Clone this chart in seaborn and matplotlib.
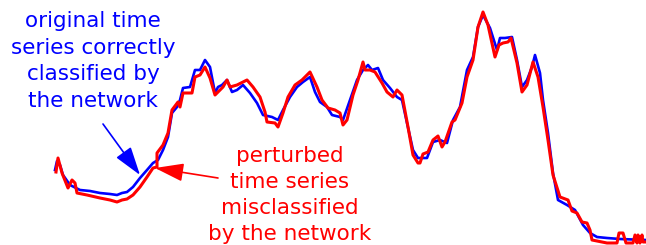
import matplotlib
matplotlib.use("Agg")
import matplotlib.pyplot as plt
import seaborn as sns
import pandas as pd

# Time index and values (value = height above the bottom edge)
blue_t = [55, 57, 60, 63, 70, 80, 90, 100, 110, 117, 122, 127, 133, 140, 147, 153, 158, 163, 168, 172,
          177, 180, 183, 190, 195, 200, 205, 210, 215, 218, 222, 227, 232, 237, 243, 250, 257, 263, 272, 278,
          283, 290, 297, 303, 310, 315, 320, 327, 332, 340, 343, 350, 357, 363, 368, 372, 378, 383, 390, 397,
          402, 407, 413, 418, 427, 433, 440, 447, 453, 460, 467, 473, 478, 483, 490, 497, 500, 505, 512, 517,
          522, 527, 532, 535, 540, 543, 548, 553, 558, 567, 575, 583, 590, 597, 607, 620, 646]
blue_y = [170, 161, 165, 175, 185, 190, 191, 193, 194, 195, 193, 192, 187, 178, 170, 163, 160, 150, 137, 113,
          107, 100, 88, 87, 70, 70, 60, 67, 93, 87, 85, 80, 92, 90, 85, 93, 103, 115, 117, 120,
          110, 97, 87, 82, 77, 92, 102, 107, 115, 117, 120, 100, 80, 70, 65, 70, 68, 80, 88, 97,
          100, 123, 150, 158, 158, 142, 140, 143, 120, 107, 70, 57, 27, 15, 28, 50, 38, 38, 37, 60,
          87, 80, 67, 55, 73, 100, 133, 173, 200, 205, 210, 225, 233, 237, 238, 239, 240]

red_t = [56, 58, 62, 68, 72, 75, 77, 87, 100, 110, 117, 122, 127, 133, 140, 147, 153, 157, 157, 163,
         168, 172, 178, 180, 183, 192, 195, 200, 205, 210, 215, 218, 223, 227, 230, 237, 243, 247, 253, 260,
         265, 267, 275, 278, 283, 288, 295, 302, 307, 310, 317, 322, 328, 335, 340, 343, 347, 353, 358, 363,
         365, 370, 375, 382, 387, 393, 397, 402, 408, 413, 418, 420, 423, 428, 433, 438, 442, 445, 452, 455,
         462, 467, 473, 478, 483, 488, 495, 499, 503, 508, 511, 517, 522, 527, 533, 538, 543, 548, 553, 560,
         568, 572, 577, 582, 587, 590, 592, 607, 617, 619, 623, 626, 633, 635, 637, 638, 640, 642, 643, 646]
red_y = [172, 158, 173, 188, 180, 183, 193, 195, 198, 200, 202, 200, 199, 195, 187, 177, 168, 167, 153, 145,
         133, 110, 102, 107, 93, 93, 77, 75, 67, 78, 95, 92, 87, 80, 87, 85, 82, 80, 87, 97,
         112, 122, 123, 127, 113, 97, 85, 80, 75, 72, 87, 100, 108, 110, 113, 125, 120, 95, 80, 62,
         70, 70, 72, 83, 92, 97, 90, 95, 127, 155, 163, 163, 154, 152, 140, 136, 147, 142, 122, 120,
         103, 77, 60, 27, 12, 25, 57, 45, 43, 42, 38, 63, 92, 85, 62, 77, 107, 140, 175, 197,
         200, 211, 213, 222, 223, 230, 240, 243, 243, 233, 233, 243, 243, 235, 243, 235, 243, 235, 242, 242]

H = 245
blue = pd.DataFrame({"t": blue_t, "v": [H - y for y in blue_y]})
red = pd.DataFrame({"t": red_t, "v": [H - y for y in red_y]})

fig = plt.figure(figsize=(6.46, 2.45), dpi=100)
ax = fig.add_axes([0, 0, 1, 1])

sns.lineplot(data=blue, x="t", y="v", ax=ax, color="#0000ff", lw=1.9,
             estimator=None, sort=False)
sns.lineplot(data=red, x="t", y="v", ax=ax, color="#ff0000", lw=2.2,
             estimator=None, sort=False)

ax.set_xlim(0, 646)
ax.set_ylim(0, H)
ax.axis("off")

ax.text(93, H - 61, "original time\nseries correctly\nclassified by\nthe network",
        color="#0000ff", fontsize=15.5, ha="center", va="center", linespacing=1.4)
ax.text(290, H - 195, "perturbed\ntime series\nmisclassified\nby the network",
        color="#ff0000", fontsize=15.5, ha="center", va="center", linespacing=1.38)

ax.annotate("", xy=(140, H - 175), xytext=(103, H - 124),
            arrowprops=dict(arrowstyle="-|>,head_length=1.1,head_width=0.35",
                            mutation_scale=16, color="#0000ff", lw=1.2,
                            shrinkA=0, shrinkB=0))
ax.annotate("", xy=(155, H - 168), xytext=(218, H - 178),
            arrowprops=dict(arrowstyle="-|>,head_length=1.1,head_width=0.35",
                            mutation_scale=16, color="#ff0000", lw=1.2,
                            shrinkA=0, shrinkB=0))

fig.savefig("out.png", dpi=100)
